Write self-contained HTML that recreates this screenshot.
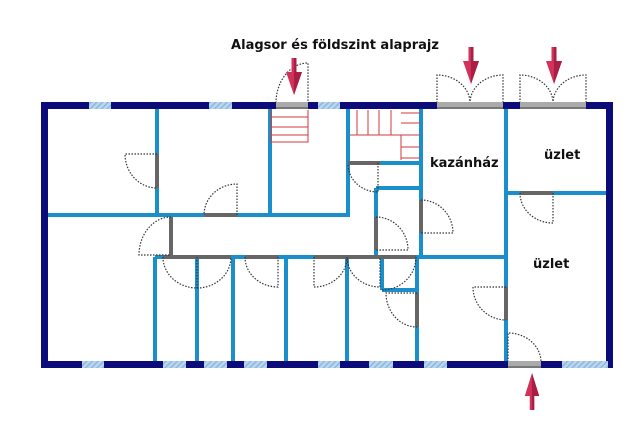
<!DOCTYPE html>
<html><head><style>
html,body{margin:0;padding:0;background:#fff;}
svg{display:block;}
text{font-family:"DejaVu Sans","Liberation Sans",sans-serif;font-weight:bold;fill:#111;}
</style></head><body>
<svg width="640" height="436" viewBox="0 0 640 436" xmlns="http://www.w3.org/2000/svg">
<defs>
<pattern id="win" width="4" height="4" patternUnits="userSpaceOnUse" patternTransform="rotate(45)">
<rect width="4" height="4" fill="#b9d6ee"/><rect width="1.5" height="4" fill="#8fb8dd"/>
</pattern>
<g id="arrowD"><path d="M-2.5,0 H2.5 V14 H8 L0,37 L-8,14 H-2.5 Z" fill="#d2325a"/><path d="M0,0 H2.5 V14 H8 L0,37 Z" fill="#a81e44"/></g>
</defs>
<text x="335" y="49" font-size="13" text-anchor="middle">Alagsor és földszint alaprajz</text>

<g stroke="#1b8fcc" stroke-width="4" fill="none">
<line x1="157" y1="109" x2="157" y2="215"/>
<line x1="270" y1="109" x2="270" y2="215"/>
<line x1="348" y1="109" x2="348" y2="217"/>
<line x1="46" y1="215" x2="350" y2="215"/>
<line x1="421" y1="109" x2="421" y2="257"/>
<line x1="506" y1="109" x2="506" y2="362"/>
<line x1="506" y1="193" x2="608" y2="193"/>
<line x1="380" y1="163" x2="421" y2="163"/>
<line x1="376" y1="188" x2="421" y2="188"/>
<line x1="376" y1="188" x2="376" y2="257"/>
<line x1="155" y1="257" x2="506" y2="257"/>
<line x1="155" y1="257" x2="155" y2="362"/>
<line x1="197" y1="257" x2="197" y2="362"/>
<line x1="233" y1="257" x2="233" y2="362"/>
<line x1="286" y1="257" x2="286" y2="362"/>
<line x1="347" y1="257" x2="347" y2="362"/>
<line x1="417" y1="257" x2="417" y2="362"/>
<line x1="382" y1="257" x2="382" y2="290"/>
<line x1="382" y1="290" x2="417" y2="290"/>
</g>
<g stroke="#666" stroke-width="4" fill="none">
<line x1="157" y1="154" x2="157" y2="188"/>
<line x1="204" y1="215" x2="237" y2="215"/>
<line x1="171" y1="217" x2="171" y2="255"/>
<line x1="348" y1="163" x2="380" y2="163"/>
<line x1="376" y1="217" x2="376" y2="250"/>
<line x1="421" y1="200" x2="421" y2="233"/>
<line x1="520" y1="193" x2="553" y2="193"/>
<line x1="163" y1="257" x2="231" y2="257"/>
<line x1="245" y1="257" x2="278" y2="257"/>
<line x1="314" y1="257" x2="416" y2="257"/>
<line x1="417" y1="293" x2="417" y2="327"/>
<line x1="506" y1="287" x2="506" y2="320"/>
</g>
<g stroke="#333" stroke-width="1.2" stroke-dasharray="1.5,1.5" fill="none">
<path d="M157,154 H125 A32,34 0 0 0 157,188"/>
<path d="M237,215 V184 A33,31 0 0 0 204,215"/>
<path d="M171,217 A32,38 0 0 0 139,255 H171"/>
<path d="M348,165 A30,28 0 0 0 378,192 V163"/>
<path d="M376,217 A32,33 0 0 1 408,250 H376"/>
<path d="M421,200 A32,33 0 0 1 453,233 H421"/>
<path d="M553,193 V223 A33,30 0 0 1 520,193"/>
<path d="M163,257 A34,31 0 0 0 197,288 A34,31 0 0 0 231,257"/>
<path d="M197,257 V288"/>
<path d="M245,257 A33,30 0 0 0 278,287 V257"/>
<path d="M314,257 V287 A33,30 0 0 0 347,257 A33,30 0 0 0 380,287 V257"/>
<path d="M416,257 A34,33 0 0 1 382,290"/>
<path d="M417,293 H386 A31,34 0 0 0 417,327"/>
<path d="M506,287 H473 A33,33 0 0 0 506,320"/>
<path d="M508,362 V333 A33,29 0 0 1 541,362"/>
<path d="M276,103 A32,40 0 0 1 308,63 V103"/>
<path d="M437,103 V75 A33,28 0 0 1 470,103 A33,28 0 0 1 503,75 V103"/>
<path d="M520,103 V75 A33,28 0 0 1 553,103 A33,28 0 0 1 586,75 V103"/>
</g>
<g stroke="#d0383e" stroke-width="1" fill="none">
<path d="M271,110 V142 H308 V110"/>
<path d="M271,117 H308 M271,127 H308 M271,135 H308"/>
<path d="M350,135 H401 V160 M357,110 V135 M368,110 V135 M379,110 V135 M391,110 V135"/>
<path d="M401,113 H420 M401,123 H420 M401,135 H420 M401,147 H420 M401,158 H420"/>
</g>
<rect x="44.5" y="105.5" width="565" height="259" fill="none" stroke="#0b0b7a" stroke-width="7"/>
<g fill="url(#win)">
<rect x="89" y="102" width="22" height="7"/><rect x="209" y="102" width="23" height="7"/><rect x="318" y="102" width="22" height="7"/>
<rect x="82" y="361" width="22" height="7"/><rect x="163" y="361" width="23" height="7"/><rect x="204" y="361" width="23" height="7"/>
<rect x="244" y="361" width="23" height="7"/><rect x="318" y="361" width="22" height="7"/><rect x="369" y="361" width="24" height="7"/>
<rect x="424" y="361" width="23" height="7"/><rect x="562" y="361" width="46" height="7"/>
</g>
<g fill="#aaa">
<rect x="276" y="102" width="32" height="7"/><rect x="437" y="102" width="66" height="7"/><rect x="520" y="102" width="66" height="7"/><rect x="508" y="361" width="33" height="7"/>
</g>
<g fill="#777"><rect x="276" y="107" width="32" height="2"/><rect x="437" y="107" width="66" height="2"/><rect x="520" y="107" width="66" height="2"/><rect x="508" y="366" width="33" height="2"/></g>
<use href="#arrowD" transform="translate(294,58)"/>
<use href="#arrowD" transform="translate(471,47)"/>
<use href="#arrowD" transform="translate(554,47)"/>
<use href="#arrowD" transform="translate(532,410) scale(0.9,-1)"/>
<text x="430" y="167" font-size="13">kazánház</text>
<text x="544" y="159" font-size="13">üzlet</text>
<text x="533" y="268" font-size="13">üzlet</text>
</svg>
</body></html>
